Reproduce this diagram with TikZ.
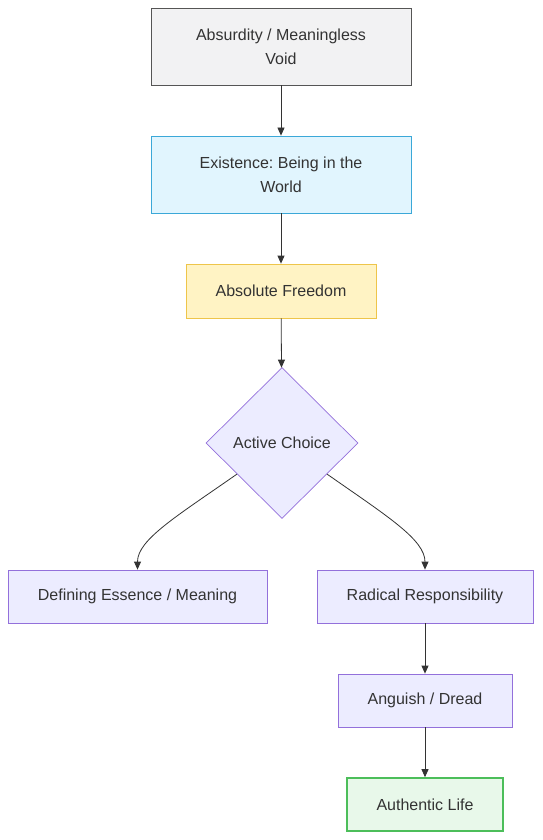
\documentclass[tikz,border=0pt]{standalone}
\usepackage{fontspec}
\setmainfont{Liberation Sans}
\frenchspacing
\usetikzlibrary{shapes.geometric,arrows.meta,calc}
\definecolor{txt}{HTML}{333333}
\definecolor{lnk}{HTML}{333333}
\definecolor{defFill}{HTML}{ECECFF}
\definecolor{defLine}{HTML}{9370DB}
\definecolor{grayFill}{HTML}{F2F2F3}
\definecolor{grayLine}{HTML}{555555}
\definecolor{blueFill}{HTML}{E1F5FE}
\definecolor{blueLine}{HTML}{3BA8D8}
\definecolor{yelFill}{HTML}{FFF3C4}
\definecolor{yelLine}{HTML}{EEC54A}
\definecolor{grnFill}{HTML}{E8F8EA}
\definecolor{grnLine}{HTML}{4CBE5A}
\begin{document}
\begin{tikzpicture}[x=1pt,y=-1pt,
  every node/.style={text=txt,font=\fontsize{16}{24}\selectfont\frenchspacing},
  box/.style={draw=defLine,fill=defFill,line width=0.8pt,minimum height=53pt,inner sep=0pt,align=center},
  arr/.style={draw=lnk,line width=0.8pt,-{Triangle[length=8pt,width=7pt]}}]
\useasboundingbox (0,0) rectangle (542,840);
\node[box,draw=grayLine,fill=grayFill,minimum width=260pt,minimum height=77pt] (abs) at (281,46.5) {Absurdity / Meaningless\\Void};
\node[box,draw=blueLine,fill=blueFill,minimum width=260pt,minimum height=77pt] (ex) at (281,174.5) {Existence: Being in the\\World};
\node[box,draw=yelLine,fill=yelFill,minimum width=190pt,minimum height=54pt] (fr) at (281,291) {Absolute Freedom};
\node[diamond,draw=defLine,fill=defFill,line width=0.7pt,minimum width=152pt,minimum height=151pt,inner sep=0pt] (ac) at (282,443) {Active Choice};
\node[box,minimum width=259pt] (def) at (137.5,596.5) {Defining Essence / Meaning};
\node[box,minimum width=216pt] (rad) at (425,596.5) {Radical Responsibility};
\node[box,minimum width=174pt] (ang) at (425,700.5) {Anguish / Dread};
\node[box,draw=grnLine,fill=grnFill,line width=1.6pt,minimum width=156pt] (auth) at (425,804.5) {Authentic Life};
\coordinate (acL) at ($(ac.west)!0.41!(ac.south)$);
\coordinate (acR) at ($(ac.east)!0.41!(ac.south)$);
\draw[arr] (abs) -- (ex);
\draw[arr] (ex) -- (fr);
\draw[arr] (fr) -- (ac);
\draw[arr] (acL) .. controls ($(acL)+(-60,42)$) and ($(def.north)+(0,-30)$) .. (def.north);
\draw[arr] (acR) .. controls ($(acR)+(60,42)$) and ($(rad.north)+(0,-30)$) .. (rad.north);
\draw[arr] (rad) -- (ang);
\draw[arr] (ang) -- (auth);
\end{tikzpicture}
\end{document}
